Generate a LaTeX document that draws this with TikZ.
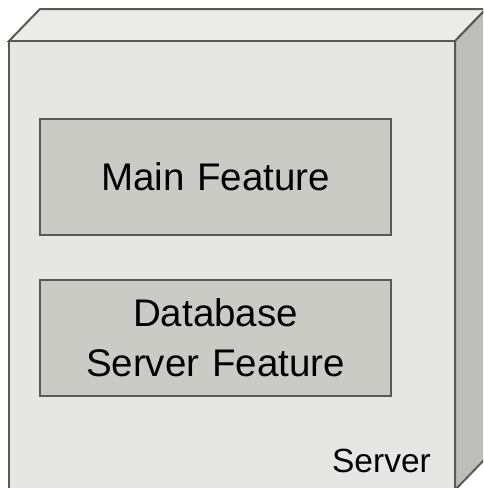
\documentclass[tikz,border=0pt]{standalone}
\usepackage{fontspec}
\setmainfont{Liberation Sans}
\definecolor{frontc}{HTML}{E6E6E4}
\definecolor{topc}{HTML}{EBEBE9}
\definecolor{sidec}{HTML}{BDBDBB}
\definecolor{innerc}{HTML}{CBCBC6}
\definecolor{edgec}{HTML}{5A5A55}
\begin{document}
\begin{tikzpicture}[x=1pt,y=-1pt,line join=miter,
  face/.style={draw=edgec,line width=2pt},
  featurebox/.style={draw=edgec,line width=2pt,fill=innerc,minimum width=351pt,minimum height=116pt,inner sep=0pt,align=center,font=\fontsize{38.5}{50}\selectfont},
  label/.style={font=\fontsize{33.5}{40}\selectfont,inner sep=0pt}]
\useasboundingbox (0,0) rectangle (483,488);
\begin{scope}
\clip (0,0) rectangle (483,488);
% top face
\draw[face,fill=topc] (9,41) -- (40,9) -- (486,9) -- (455,41) -- cycle;
% right face
\draw[face,fill=sidec] (455,41) -- (486,9) -- (486,458) -- (455,490) -- cycle;
% front face
\draw[face,fill=frontc] (9,41) rectangle (455,492);
\end{scope}
\node[featurebox,text width=351pt] (main) at (215.5,177) {Main Feature};
\node[featurebox,text width=351pt] (db) at (215.5,338) {Database\\Server Feature};
\node[label,anchor=base east] (server) at (431,472) {Server};
\end{tikzpicture}
\end{document}
